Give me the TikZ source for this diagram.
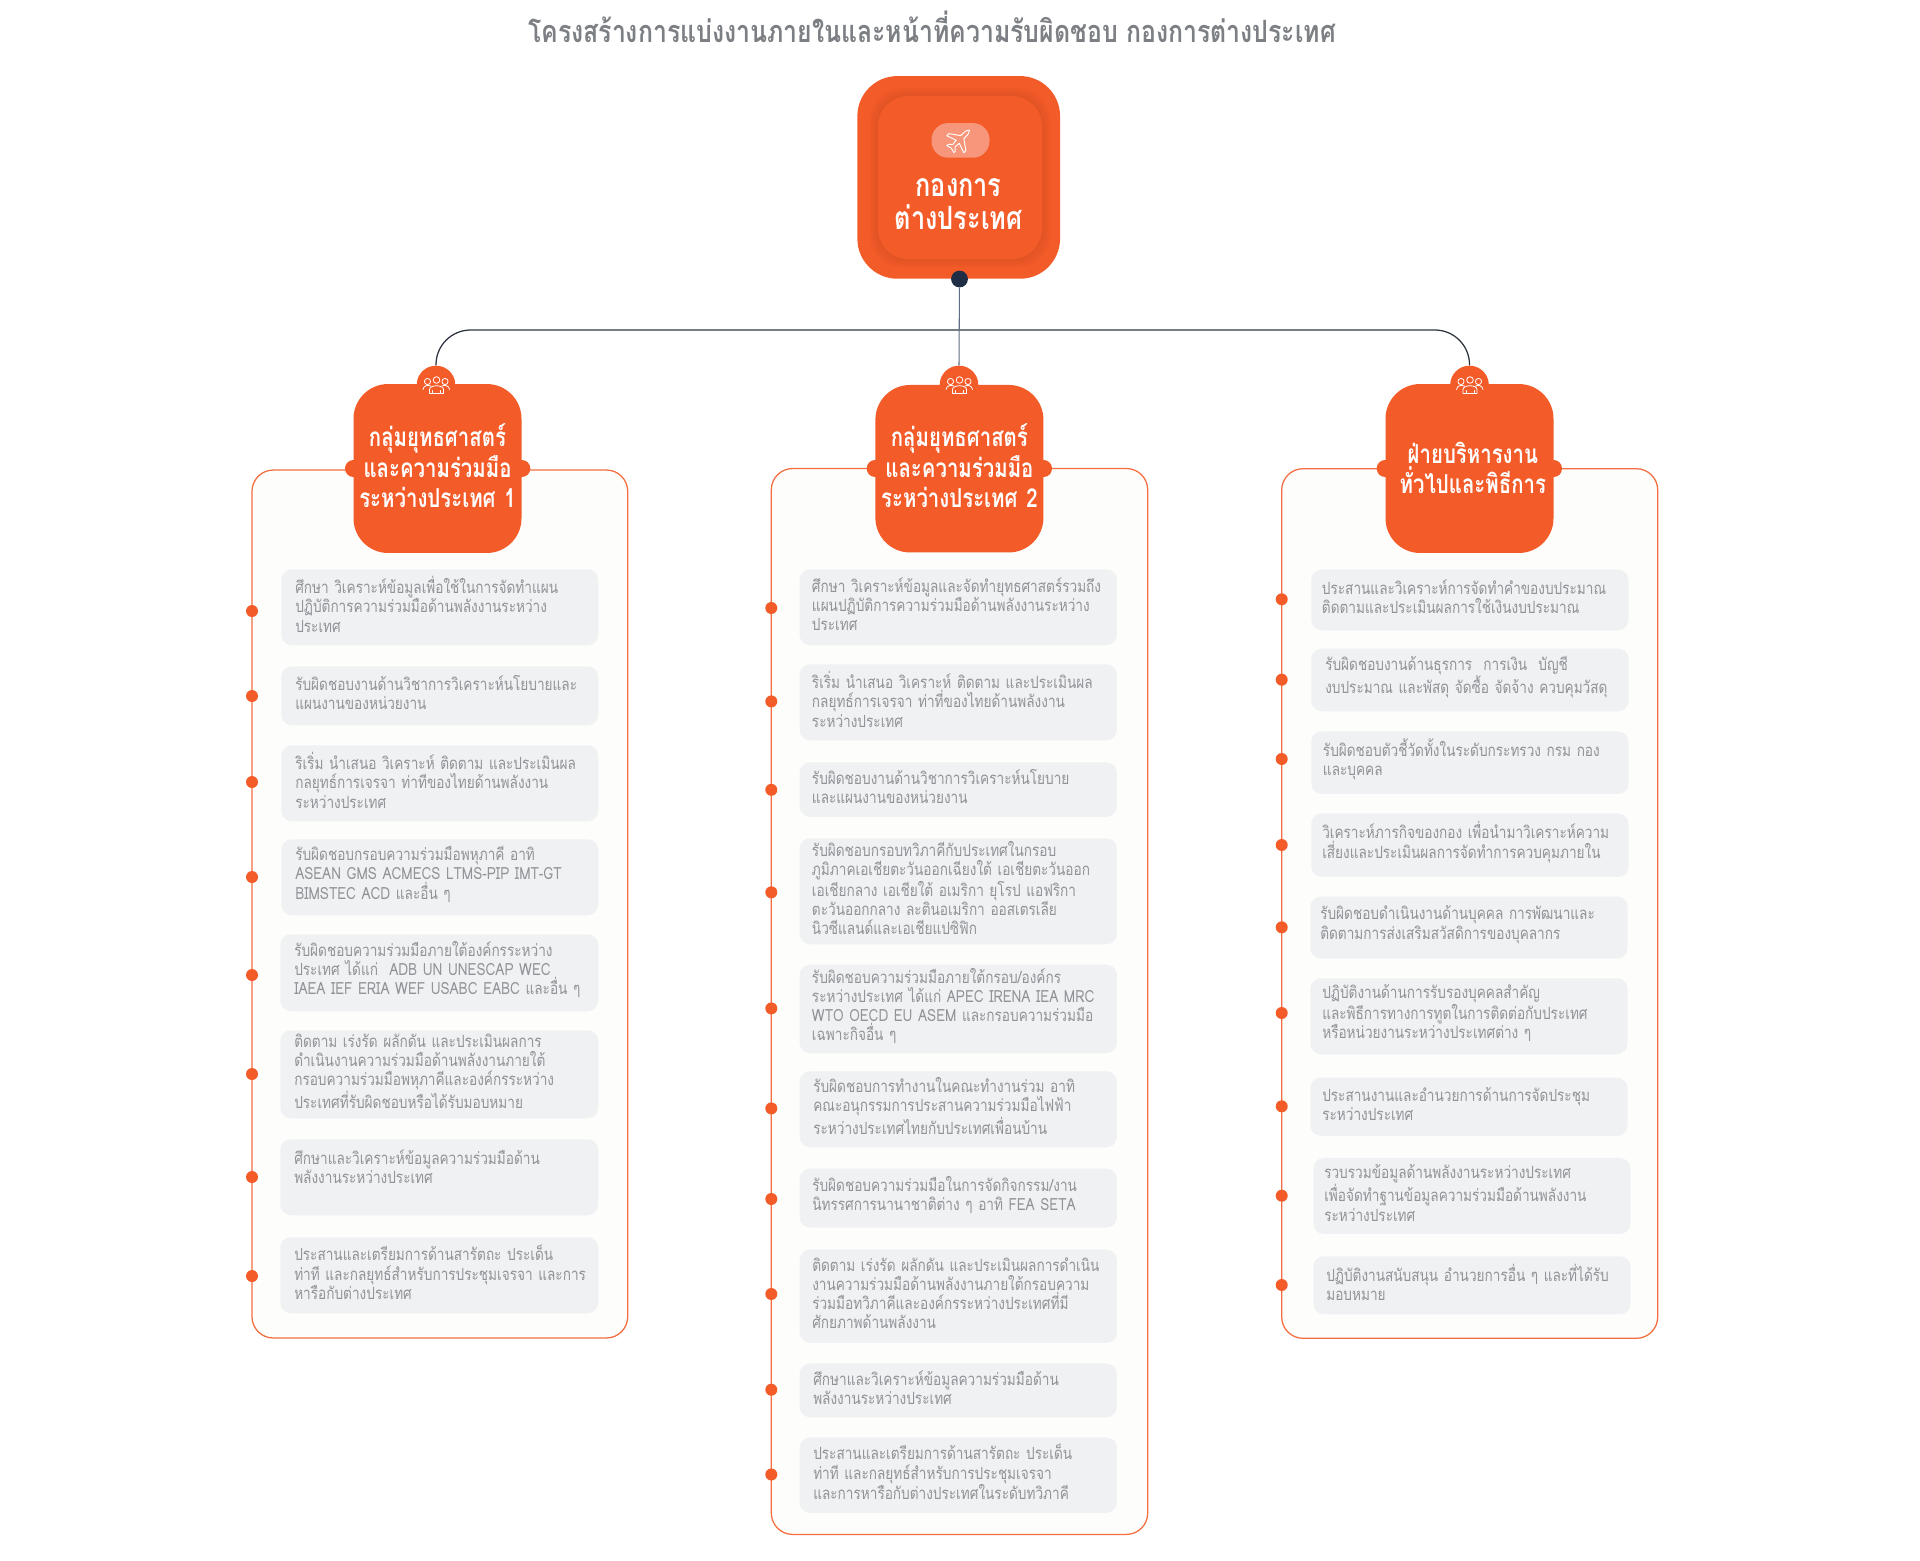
\documentclass[tikz,border=0pt]{standalone}
\usepackage{fontspec}
\setmainfont[Script=Thai]{Loma}
\newfontfamily\itemf[Script=Thai,FakeStretch=0.81]{Loma}
\newfontfamily\headf[Script=Thai,FakeStretch=0.78]{Loma}
\newfontfamily\rootf[Script=Thai,FakeStretch=0.79]{Loma}
\newfontfamily\titlef[Script=Thai,FakeStretch=0.81]{Loma}
\definecolor{org}{HTML}{F35B29}
\definecolor{orgl}{HTML}{F46E41}
\definecolor{pill}{HTML}{F7967A}
\definecolor{shadec}{HTML}{C84A1E}
\definecolor{itemc}{HTML}{F0F1F3}
\definecolor{panelc}{HTML}{FDFDFB}
\definecolor{txtc}{HTML}{909397}
\definecolor{ttl}{HTML}{7C7F84}
\definecolor{navy}{HTML}{1F2D45}
\definecolor{linkd}{HTML}{2F3540}
\definecolor{linkg}{HTML}{5F6E82}
\newcommand\lin[1]{\mbox{#1}}
\tikzset{
  x=0.75pt,y=-0.75pt,
  panelbox/.style={draw=orgl,fill=panelc,line width=0.95pt,rounded corners=16pt},
  headbox/.style={fill=org,rounded corners=26pt,inner sep=0pt,text=white,align=center,text width=126pt,
    font=\headf\fontsize{19.6}{22.9}\selectfont\bfseries},
  itembox/.style={fill=itemc,rounded corners=8pt,anchor=north west,inner ysep=0pt,align=left,
    text=txtc,font=\itemf\fontsize{12.6}{14.4}\selectfont},
  dotn/.style={circle,fill=org,minimum size=9pt,inner sep=0pt},
  bump/.style={circle,fill=org,minimum size=29pt,inner sep=0pt},
  sidebump/.style={fill=org,rounded corners=6.3pt,inner sep=0pt},
  people/.pic={
    \begin{scope}[draw=white,line width=0.6pt,line cap=round,line join=round]
      \draw (-8.5,-3.5) circle (3.1);
      \draw (0.5,-5) circle (3.3);
      \draw (9,-3.5) circle (3.1);
      \draw (-6.5,8.5) -- (-6.5,4.5) .. controls (-6.5,-0.5) and (7.5,-0.5) .. (7.5,4.5) -- (7.5,8.5) -- cycle;
      \draw (-3.5,8.5) -- (-3.5,5.5);
      \draw (4.5,8.5) -- (4.5,5.5);
      \draw (-13,4.5) .. controls (-12.5,0.5) and (-8,-0.5) .. (-5,1);
      \draw (13.5,4.5) .. controls (13,0.5) and (8.5,-0.5) .. (6,1);
    \end{scope}
  },
  plane/.pic={
    \draw[white,line width=0.7pt,line join=round,rotate=-45]
      (0,-14) .. controls (1.8,-13) and (2.2,-10) .. (2.2,-6)
      -- (2.2,-4) -- (12,3) -- (12,6) -- (2.2,2.5) -- (1.6,8) -- (5,11) -- (5,13) -- (0,11.5)
      -- (-5,13) -- (-5,11) -- (-1.6,8) -- (-2.2,2.5) -- (-12,6) -- (-12,3) -- (-2.2,-4) -- (-2.2,-6)
      .. controls (-2.2,-10) and (-1.8,-13) .. (0,-14) -- cycle;
  }
}
% name, x1, y1, x2, y2, textx, doty, dotx, lines
\newcommand\itm[9]{%
  \pgfmathsetmacro\wa{(#4-#2)*0.75}%
  \pgfmathsetmacro\ha{(#5-#3)*0.75}%
  \pgfmathsetmacro\xs{(#6-#2)*0.75}%
  \pgfmathsetmacro\tw{\wa-2*\xs}%
  \node[itembox,minimum width=\wa pt,minimum height=\ha pt,inner xsep=\xs pt,text width=\tw pt] (#1) at (#2,#3) {#9\par\vspace{4.5pt}};
  \node[dotn] (#1d) at (#8,#7) {};
}
\newcommand\grp[7]{%
  \draw[panelbox] (#2,#3) rectangle (#4,#5);
  \node[bump] (#1b) at (#6,385) {};
  \fill[sidebump] (#7,460) rectangle +(185.3,17);
}
\begin{document}
\begin{tikzpicture}
\useasboundingbox[fill=white] (0,0) rectangle (1920,1560);

\node[text=ttl,font=\titlef\fontsize{23}{27}\selectfont\bfseries] (title) at (932,27)
  {โครงสร้างการแบ่งงานภายในและหน้าที่ความรับผิดชอบ กองการต่างประเทศ};

% panels, bumps
\grp{a}{252}{470}{627.7}{1338}{436}{345}
\grp{b}{771.3}{468.5}{1147.7}{1534.4}{959}{866.7}
\grp{c}{1281.7}{468.7}{1657.7}{1338.3}{1469.5}{1376.7}

% root
\node[fill=org,rounded corners=30pt,minimum width=152pt,minimum height=152pt,inner sep=0pt] (root) at (958.7,177.4) {};
\foreach \g in {8,6.5,5,3.5,2}{
  \fill[shadec,opacity=0.07,rounded corners=24pt] (878-\g,96-\g) rectangle (1042+\g,259+\g);
}
\node[fill=org,rounded corners=23pt,minimum width=123pt,minimum height=122.3pt,inner sep=0pt] (inner) at (960,177.5) {};
\node[fill=pill,rounded corners=12.5pt,minimum width=43.5pt,minimum height=26pt,inner sep=0pt] (iconpill) at (960.5,140.4) {};
\pic at (959.5,140) {plane};
\node[text=white,align=center,inner sep=0pt,font=\rootf\fontsize{24}{24.8}\selectfont\bfseries] (roottext) at (958.6,204) {กองการ\\ต่างประเทศ};

% connectors
\node[circle,fill=navy,minimum size=12.6pt,inner sep=0pt] (rootdot) at (959.5,279) {};
\coordinate (jn) at (959.5,330);
\draw[linkd,line width=0.95pt,rounded corners=26pt] (ab.north) |- (jn) -| (cb.north);
\draw[linkg,line width=0.8pt] (rootdot) -- (bb.north);

% heads
\node[headbox,minimum height=126.7pt] (ah) at (437.5,468.5)
  {กลุ่มยุทธศาสตร์\\และความร่วมมือ\\ระหว่างประเทศ 1\par\vspace{4pt}};
\node[headbox,minimum height=125.6pt] (bh) at (959.4,468.7)
  {กลุ่มยุทธศาสตร์\\และความร่วมมือ\\ระหว่างประเทศ 2\par\vspace{4pt}};
\node[headbox,minimum height=126.7pt] (ch) at (1469.5,468.5)
  {\hspace*{5pt}ฝ่ายบริหารงาน\\\hspace*{5pt}ทั่วไปและพิธีการ\par\vspace{1pt}};
\pic at (ab) {people};
\pic at (bb) {people};
\pic at (cb) {people};

% column 1
\itm{a1}{281}{569}{598}{645}{295}{611}{252}{\lin{ศึกษา วิเคราะห์ข้อมูลเพื่อใช้ในการจัดทำแผน}\\\lin{ปฏิบัติการความร่วมมือด้านพลังงานระหว่าง}\\\lin{ประเทศ}}
\itm{a2}{281}{666}{598}{725}{295}{696}{252}{\lin{รับผิดชอบงานด้านวิชาการวิเคราะห์นโยบายและ}\\\lin{แผนงานของหน่วยงาน}}
\itm{a3}{281}{745}{598}{821}{295}{782}{252}{\lin{ริเริ่ม นำเสนอ วิเคราะห์ ติดตาม และประเมินผล}\\\lin{กลยุทธ์การเจรจา ท่าทีของไทยด้านพลังงาน}\\\lin{ระหว่างประเทศ}}
\itm{a4}{281}{839}{598}{915}{295}{877}{252}{\lin{รับผิดชอบกรอบความร่วมมือพหุภาคี อาทิ}\\\lin{ASEAN GMS ACMECS LTMS-PIP IMT-GT}\\\lin{BIMSTEC ACD และอื่น ๆ}}
\itm{a5}{280}{934}{598}{1011}{294}{975}{252}{\lin{รับผิดชอบความร่วมมือภายใต้องค์กรระหว่าง}\\\lin{ประเทศ ได้แก่\ \ ADB UN UNESCAP WEC}\\\lin{IAEA IEF ERIA WEF USABC EABC และอื่น ๆ}}
\itm{a6}{280}{1030}{598}{1118}{294}{1074}{252}{\lin{ติดตาม เร่งรัด ผลักดัน และประเมินผลการ}\\\lin{ดำเนินงานความร่วมมือด้านพลังงานภายใต้}\\\lin{กรอบความร่วมมือพหุภาคีและองค์กรระหว่าง}\\\lin{ประเทศที่รับผิดชอบหรือได้รับมอบหมาย}}
\itm{a7}{280}{1139}{598}{1215}{294}{1177}{252}{\lin{ศึกษาและวิเคราะห์ข้อมูลความร่วมมือด้าน}\\\lin{พลังงานระหว่างประเทศ}\\[-3pt]~}
\itm{a8}{280}{1237}{598}{1313}{294}{1276}{252}{\lin{ประสานและเตรียมการด้านสารัตถะ ประเด็น}\\\lin{ท่าที และกลยุทธ์สำหรับการประชุมเจรจา และการ}\\\lin{หารือกับต่างประเทศ}}

% column 2
\itm{b1}{799.3}{569}{1116.7}{645}{811.7}{608}{771.3}{\lin{ศึกษา วิเคราะห์ข้อมูลและจัดทำยุทธศาสตร์รวมถึง}\\\lin{แผนปฏิบัติการความร่วมมือด้านพลังงานระหว่าง}\\\lin{ประเทศ}}
\itm{b2}{799.3}{664}{1116.7}{740}{811.7}{701.4}{771.3}{\lin{ริเริ่ม นำเสนอ วิเคราะห์ ติดตาม และประเมินผล}\\\lin{กลยุทธ์การเจรจา ท่าที่ของไทยด้านพลังงาน}\\\lin{ระหว่างประเทศ}}
\itm{b3}{799.3}{762}{1116.7}{816.6}{811.7}{789.8}{771.3}{\lin{รับผิดชอบงานด้านวิชาการวิเคราะห์นโยบาย}\\\lin{และแผนงานของหน่วยงาน}}
\itm{b4}{799.3}{838}{1116.7}{944}{811.7}{892.3}{771.3}{\lin{รับผิดชอบกรอบทวิภาคีกับประเทศในกรอบ}\\\lin{ภูมิภาคเอเชียตะวันออกเฉียงใต้ เอเชียตะวันออก}\\\lin{เอเชียกลาง เอเชียใต้ อเมริกา ยุโรป แอฟริกา}\\\lin{ตะวันออกกลาง ละตินอเมริกา ออสเตรเลีย}\\\lin{นิวซีแลนด์และเอเชียแปซิฟิก}}
\itm{b5}{799.3}{964.4}{1116.7}{1053}{811.7}{1008.4}{771.3}{\lin{รับผิดชอบความร่วมมือภายใต้กรอบ/องค์กร}\\\lin{ระหว่างประเทศ ได้แก่ APEC IRENA IEA MRC}\\\lin{WTO OECD EU ASEM และกรอบความร่วมมือ}\\\lin{เฉพาะกิจอื่น ๆ}}
\itm{b6}{799.3}{1071}{1116.7}{1147}{813}{1108.4}{771.3}{\lin{รับผิดชอบการทำงานในคณะทำงานร่วม อาทิ}\\\lin{คณะอนุกรรมการประสานความร่วมมือไฟฟ้า}\\\lin{ระหว่างประเทศไทยกับประเทศเพื่อนบ้าน}}
\itm{b7}{799.3}{1168.3}{1116.7}{1227.4}{812}{1199}{771.3}{\lin{รับผิดชอบความร่วมมือในการจัดกิจกรรม/งาน}\\\lin{นิทรรศการนานาชาติต่าง ๆ อาทิ FEA SETA}}
\itm{b8}{799.3}{1249.2}{1116.7}{1342.6}{812}{1294}{771.3}{\lin{ติดตาม เร่งรัด ผลักดัน และประเมินผลการดำเนิน}\\\lin{งานความร่วมมือด้านพลังงานภายใต้กรอบความ}\\\lin{ร่วมมือทวิภาคีและองค์กรระหว่างประเทศที่มี}\\\lin{ศักยภาพด้านพลังงาน}}
\itm{b9}{799.3}{1363.2}{1116.7}{1417}{813}{1389.7}{771.3}{\lin{ศึกษาและวิเคราะห์ข้อมูลความร่วมมือด้าน}\\\lin{พลังงานระหว่างประเทศ}}
\itm{b10}{799.3}{1437.2}{1116.7}{1512.7}{813}{1474.5}{771.3}{\lin{ประสานและเตรียมการด้านสารัตถะ ประเด็น}\\\lin{ท่าที และกลยุทธ์สำหรับการประชุมเจรจา}\\\lin{และการหารือกับต่างประเทศในระดับทวิภาคี}}

% column 3
\itm{c1}{1311}{569.3}{1628.3}{630}{1321.7}{599.3}{1281.7}{\lin{ประสานและวิเคราะห์การจัดทำคำของบประมาณ}\\\lin{ติดตามและประเมินผลการใช้เงินงบประมาณ}}
\itm{c2}{1311}{648.3}{1628.3}{711}{1325}{679.7}{1281.7}{\lin{รับผิดชอบงานด้านธุรการ\ \ การเงิน\ \ บัญชี}\\\lin{งบประมาณ และพัสดุ จัดซื้อ จัดจ้าง ควบคุมวัสดุ}}
\itm{c3}{1311}{731}{1628.3}{793.7}{1322.7}{759}{1281.7}{\lin{รับผิดชอบตัวชี้วัดทั้งในระดับกระทรวง กรม กอง}\\\lin{และบุคคล}}
\itm{c4}{1311}{813}{1628.3}{876.7}{1322}{845}{1281.7}{\lin{วิเคราะห์ภารกิจของกอง เพื่อนำมาวิเคราะห์ความ}\\\lin{เสี่ยงและประเมินผลการจัดทำการควบคุมภายใน}}
\itm{c5}{1310}{896.3}{1627.3}{958.3}{1320}{927.3}{1281.7}{\lin{รับผิดชอบดำเนินงานด้านบุคคล การพัฒนาและ}\\\lin{ติดตามการส่งเสริมสวัสดิการของบุคลากร}}
\itm{c6}{1310}{978}{1627.3}{1054}{1322}{1013}{1281.7}{\lin{ปฏิบัติงานด้านการรับรองบุคคลสำคัญ}\\\lin{และพิธีการทางการทูตในการติดต่อกับประเทศ}\\\lin{หรือหน่วยงานระหว่างประเทศต่าง ๆ}}
\itm{c7}{1310}{1077.3}{1627.3}{1135.7}{1322}{1106.3}{1281.7}{\lin{ประสานงานและอำนวยการด้านการจัดประชุม}\\\lin{ระหว่างประเทศ}}
\itm{c8}{1313}{1157.7}{1630.3}{1233.7}{1324}{1195.7}{1281.7}{\lin{รวบรวมข้อมูลด้านพลังงานระหว่างประเทศ}\\\lin{เพื่อจัดทำฐานข้อมูลความร่วมมือด้านพลังงาน}\\\lin{ระหว่างประเทศ}}
\itm{c9}{1313}{1256}{1630.3}{1314}{1326}{1285}{1281.7}{\lin{ปฏิบัติงานสนับสนุน อำนวยการอื่น ๆ และที่ได้รับ}\\\lin{มอบหมาย}}
\end{tikzpicture}
\end{document}
